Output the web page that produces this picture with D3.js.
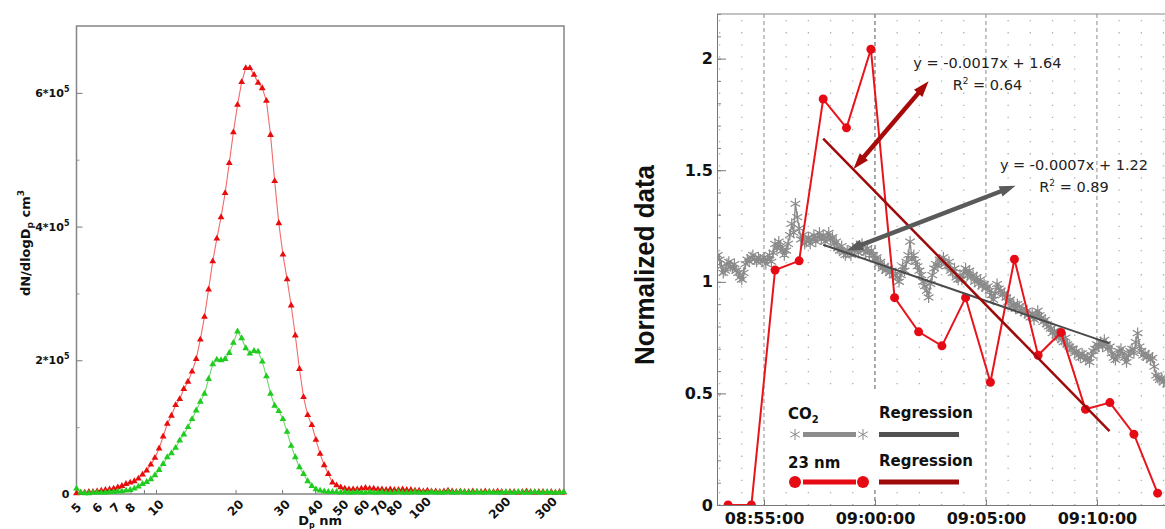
<!DOCTYPE html>
<html>
<head>
<meta charset="utf-8">
<script src="https://cdn.jsdelivr.net/npm/d3@7/dist/d3.min.js"></script>
<style>
html,body{margin:0;padding:0;background:#fff;}
svg{display:block;}
</style>
</head>
<body>
<svg id="chart" width="1165" height="529"></svg>
<script>
// ================= LEFT PANEL DATA =================
// particle diameter channels (nm)
const diameters = [
 5.000,5.183,5.373,5.570,5.774,5.985,6.204,6.432,6.667,6.912,
 7.165,7.427,7.699,7.981,8.274,8.577,8.891,9.217,9.554,9.904,
 10.27,10.64,11.03,11.44,11.86,12.29,12.74,13.21,13.69,14.19,
 14.71,15.25,15.81,16.39,16.99,17.62,18.26,18.93,19.62,20.34,
 21.09,21.86,22.66,23.49,24.35,25.24,26.17,27.13,28.12,29.15,
 30.22,31.33,32.47,33.66,34.89,36.17,37.49,38.87,40.29,41.77,
 43.30,44.88,46.53,48.23,50.00,51.83,53.73,55.70,57.74,59.85,
 62.04,64.32,66.67,69.12,71.65,74.27,76.99,79.81,82.74,85.77,
 88.91,92.17,95.54,99.04,102.7,106.4,110.3,114.4,118.6,122.9,
 127.4,132.1,136.9,141.9,147.1,152.5,158.1,163.9,169.9,176.2,
 182.6,189.3,196.2,203.4,210.9,218.6,226.6,234.9,243.5,252.4,
 261.7,271.3,281.2,291.5,302.2,313.3,324.7,336.6,348.9
];
// dN/dlogDp, units of 1e5 cm^-3
const seriesRed = [
 0.01,0.02,0.02,0.03,0.03,0.04,0.05,0.06,0.07,0.08,
 0.10,0.12,0.15,0.17,0.19,0.23,0.29,0.35,0.44,0.54,
 0.68,0.86,1.05,1.17,1.33,1.42,1.57,1.68,1.83,2.02,
 2.31,2.65,3.06,3.48,3.82,4.14,4.50,4.95,5.41,5.82,
 6.16,6.37,6.37,6.27,6.15,6.07,5.88,5.37,4.68,4.05,
 3.58,3.21,2.82,2.37,1.87,1.45,1.18,1.03,0.81,0.60,
 0.43,0.30,0.17,0.13,0.10,0.08,0.07,0.07,0.07,0.08,
 0.09,0.08,0.08,0.07,0.07,0.06,0.07,0.06,0.06,0.07,
 0.06,0.06,0.05,0.05,0.04,0.05,0.04,0.04,0.03,0.04,
 0.05,0.04,0.03,0.04,0.03,0.03,0.04,0.03,0.03,0.04,
 0.03,0.03,0.04,0.03,0.02,0.03,0.03,0.02,0.03,0.04,
 0.03,0.02,0.03,0.03,0.02,0.03,0.02,0.03,0.02
];
const seriesGreen = [
 0.08,0.02,0.01,0.01,0.02,0.02,0.02,0.02,0.03,0.03,
 0.04,0.04,0.05,0.06,0.08,0.11,0.15,0.18,0.22,0.28,
 0.36,0.45,0.55,0.61,0.69,0.80,0.89,1.00,1.12,1.25,
 1.38,1.50,1.72,1.94,2.01,2.00,2.02,2.11,2.26,2.43,
 2.33,2.18,2.10,2.14,2.13,1.98,1.76,1.50,1.32,1.24,
 1.12,0.93,0.72,0.55,0.40,0.30,0.19,0.12,0.07,0.05,
 0.04,0.03,0.03,0.03,0.02,0.03,0.02,0.02,0.03,0.02,
 0.02,0.03,0.02,0.02,0.03,0.02,0.02,0.02,0.03,0.02,
 0.02,0.02,0.03,0.02,0.02,0.02,0.03,0.02,0.02,0.02,
 0.03,0.02,0.02,0.03,0.02,0.02,0.02,0.03,0.02,0.02,
 0.03,0.02,0.02,0.02,0.03,0.02,0.02,0.03,0.02,0.02,
 0.02,0.03,0.02,0.02,0.03,0.02,0.02,0.02,0.03
];
const leftXTicks = [5,6,7,8,9,10,20,30,40,50,60,70,80,90,100,200,300];
const leftXLabels = [5,6,7,8,10,20,30,40,50,60,70,80,100,200,300];
const leftYMajor = [0,2,4,6];
const leftYMinor = [1,3,5];

// ================= RIGHT PANEL DATA =================
const co2StartTime = "08:52:55";
const co2StepSeconds = 5;
const co2Values = [
 1.12,1.10,1.07,1.04,1.05,1.08,1.09,1.07,1.06,1.08,1.05,1.04,
 1.02,1.01,1.04,1.08,1.10,1.09,1.11,1.12,1.10,1.09,1.11,1.10,
 1.09,1.11,1.08,1.10,1.12,1.09,1.13,1.17,1.15,1.18,1.16,1.14,
 1.12,1.14,1.17,1.21,1.26,1.22,1.35,1.29,1.24,1.19,1.21,1.17,
 1.18,1.20,1.17,1.19,1.21,1.18,1.20,1.22,1.19,1.21,1.18,1.20,
 1.22,1.19,1.20,1.17,1.18,1.15,1.14,1.16,1.13,1.12,1.14,1.13,
 1.12,1.15,1.14,1.16,1.13,1.15,1.17,1.14,1.13,1.15,1.12,1.14,
 1.12,1.10,1.11,1.08,1.09,1.06,1.07,1.05,1.06,1.04,1.05,1.03,
 1.03,1.02,1.00,1.03,1.07,1.05,1.09,1.12,1.18,1.10,1.12,1.09,
 1.07,1.05,1.03,1.00,0.98,0.96,0.93,0.99,1.03,1.06,1.08,1.07,
 1.10,1.09,1.11,1.08,1.07,1.09,1.05,1.04,1.06,1.02,1.01,1.03,
 1.01,1.04,1.06,1.03,1.05,1.02,1.03,1.00,1.02,0.99,1.01,0.98,
 0.99,0.97,0.98,0.96,0.94,0.92,0.95,0.99,0.97,0.96,0.94,0.95,
 0.93,0.91,0.92,0.89,0.90,0.88,0.90,0.89,0.87,0.88,0.86,0.87,
 0.85,0.84,0.86,0.83,0.85,0.87,0.85,0.84,0.82,0.83,0.81,0.80,
 0.79,0.77,0.78,0.76,0.75,0.77,0.74,0.73,0.75,0.72,0.71,0.70,
 0.70,0.68,0.69,0.67,0.66,0.68,0.67,0.65,0.66,0.64,0.67,0.69,
 0.70,0.72,0.71,0.73,0.71,0.74,0.72,0.70,0.71,0.68,0.66,0.65,
 0.67,0.69,0.70,0.68,0.66,0.64,0.67,0.69,0.70,0.68,0.73,0.77,
 0.71,0.69,0.67,0.68,0.66,0.67,0.65,0.66,0.62,0.58,0.57,0.56,
 0.57,0.55,0.56,0.54,0.55,0.53,0.54,0.52,0.53
];
const nm23Times = ["08:53:23","08:54:26","08:55:30","08:56:35","08:57:40","08:58:43","08:59:49",
 "09:00:53","09:01:58","09:03:01","09:04:05","09:05:12","09:06:17","09:07:21","09:08:23",
 "09:09:29","09:10:35","09:11:40","09:12:44"];
const nm23Values = [0,0,1.053,1.094,1.819,1.690,2.042,0.929,0.776,0.713,0.929,0.550,1.101,
 0.671,0.773,0.429,0.459,0.317,0.053];
const regCo2Times = ["08:57:40","09:10:34"];
const regCo2Values = [1.166,0.724];
const regNmTimes = ["08:57:40","09:10:34"];
const regNmValues = [1.642,0.331];
const arrowNmTimes = ["08:59:02","09:02:25"];
const arrowNmValues = [1.506,1.899];
const arrowCo2Times = ["08:58:44","09:06:20"];
const arrowCo2Values = [1.140,1.431];
const annTexts = [["y = -0.0017x + 1.64","0.64"],["y = -0.0007x + 1.22","0.89"]];
const annTimes = ["09:05:04","09:08:58"];
const annValues = [1.96,1.502];
const rightYTicks = [0,0.5,1,1.5,2];
const rightXTicks = ["08:55:00","09:00:00","09:05:00","09:10:00"];

// ================= DRAW =================
const svg = d3.select("#chart");
const BOLD = "'DejaVu Sans', sans-serif";

// ---------- LEFT ----------
const lx = d3.scaleLog().domain([5,350]).range([76.5,564]);
const ly = d3.scaleLinear().domain([0,7]).range([494,26]);
const [lx0,lx1] = lx.range(), [ly0,ly1] = ly.range();
const L = svg.append("g");

L.append("g").attr("transform",`translate(0,${ly0})`)
 .call(d3.axisBottom(lx).tickValues(leftXTicks).tickSize(-4).tickFormat("").tickSizeOuter(0))
 .call(g=>{g.select(".domain").remove(); g.selectAll("line").attr("stroke","#777");});
L.append("g").attr("transform",`translate(${lx0},0)`)
 .call(d3.axisLeft(ly).tickValues(leftYMajor).tickSize(-6).tickFormat("").tickSizeOuter(0))
 .call(g=>{g.select(".domain").remove(); g.selectAll("line").attr("stroke","#777");});
L.append("g").attr("transform",`translate(${lx0},0)`)
 .call(d3.axisLeft(ly).tickValues(leftYMinor).tickSize(-3).tickFormat("").tickSizeOuter(0))
 .call(g=>{g.select(".domain").remove(); g.selectAll("line").attr("stroke","#999");});

L.append("rect").attr("x",lx0).attr("y",ly1).attr("width",lx1-lx0).attr("height",ly0-ly1)
 .attr("fill","none").attr("stroke","#858585").attr("stroke-width",1.5);

// y labels
leftYMajor.forEach(v=>{
  const t = L.append("text").attr("x",lx0-7).attr("y",ly(v)+4).attr("text-anchor","end")
    .attr("font-family",BOLD).attr("font-weight","bold").attr("font-size",11).attr("fill","#111");
  if(v===0){ t.text("0"); }
  else { t.append("tspan").text(v+"*10"); t.append("tspan").attr("dy",-5).attr("font-size",8).text("5"); }
});
// x labels
leftXLabels.forEach(d=>{
  const x = lx(d), y = 508;
  L.append("text").attr("x",x).attr("y",y).attr("text-anchor","middle").attr("dominant-baseline","central")
   .attr("transform",`rotate(-45,${x},${y})`)
   .attr("font-family",BOLD).attr("font-weight","bold").attr("font-size",12).attr("fill","#111").text(d);
});
// axis titles
{
  const t = L.append("text").attr("transform","translate(30,243) rotate(-90)").attr("text-anchor","middle")
   .attr("font-family",BOLD).attr("font-weight","bold").attr("font-size",13).attr("fill","#111");
  t.append("tspan").text("dN/dlogD");
  t.append("tspan").attr("dy",3).attr("font-size",9).text("p");
  t.append("tspan").attr("dy",-3).text(" cm");
  t.append("tspan").attr("dy",-6).attr("font-size",9).text("3");
  const u = L.append("text").attr("x",(lx0+lx1)/2).attr("y",525).attr("text-anchor","middle")
   .attr("font-family",BOLD).attr("font-weight","bold").attr("font-size",13).attr("fill","#111");
  u.append("tspan").text("D");
  u.append("tspan").attr("dy",3).attr("font-size",8).text("p");
  u.append("tspan").attr("dy",-3).text(" nm");
}
// series
const leftSeries = [
  {vals:seriesRed, line:"#f26a6a", fill:"#e80c0c"},
  {vals:seriesGreen, line:"#6fd66f", fill:"#1fcc1f"}
];
const tri = d3.symbol().type(d3.symbolTriangle).size(20);
leftSeries.forEach(s=>{
  const line = d3.line().x((d,i)=>lx(diameters[i])).y(d=>ly(d));
  L.append("path").attr("d",line(s.vals)).attr("fill","none").attr("stroke",s.line).attr("stroke-width",1.1);
  L.append("g").selectAll("path").data(s.vals).join("path")
   .attr("d",tri).attr("transform",(d,i)=>`translate(${lx(diameters[i])},${ly(d)})`)
   .attr("fill",s.fill);
});

// ---------- RIGHT ----------
const parseT = d3.timeParse("%H:%M:%S");
const rx = d3.scaleTime().domain([parseT("08:52:53"),parseT("09:13:04")]).range([717,1165]);
const ry = d3.scaleLinear().domain([0,2.2]).range([505,14]);
const [rx0,rx1] = rx.range(), [ry0,ry1] = ry.range();
const R = svg.append("g");
svg.append("defs").append("clipPath").attr("id","rclip").append("rect")
  .attr("x",rx0).attr("y",ry1).attr("width",rx1-rx0).attr("height",ry0-ry1);

// dotted minute grid
const minutes = d3.timeMinute.range(rx.domain()[0], rx.domain()[1]).filter(d=>d.getMinutes()%5!==0);
R.append("g").selectAll("line").data(minutes).join("line")
 .attr("x1",d=>rx(d)).attr("x2",d=>rx(d)).attr("y1",ry1+6).attr("y2",ry0)
 .attr("stroke","#b0b0b0").attr("stroke-width",1.3).attr("stroke-dasharray","1.3 10.8");
// dashed 5-minute lines
R.append("g").selectAll("line").data(rightXTicks.map(parseT)).join("line")
 .attr("x1",d=>rx(d)).attr("x2",d=>rx(d)).attr("y1",ry1).attr("y2",ry0)
 .attr("stroke",d=>d.getMinutes()===0?"#555":"#8c8c8c").attr("stroke-width",1).attr("stroke-dasharray","4 3");

// axes
R.append("g").attr("transform",`translate(${rx0},0)`)
 .call(d3.axisLeft(ry).ticks(22).tickSize(-4).tickFormat("").tickSizeOuter(0))
 .call(g=>{g.select(".domain").remove(); g.selectAll("line").attr("stroke","#888");});
R.append("g").attr("transform",`translate(${rx0},0)`)
 .call(d3.axisLeft(ry).tickValues(rightYTicks).tickSize(-9).tickPadding(4).tickSizeOuter(0)
   .tickFormat(d=>String(d)))
 .call(g=>{g.select(".domain").attr("stroke","#777");
   g.selectAll("line").attr("stroke","#777");
   g.selectAll("text").attr("font-family",BOLD).attr("font-weight","bold").attr("font-size",16).attr("fill","#111");});
R.append("g").attr("transform",`translate(0,${ry0})`)
 .call(d3.axisBottom(rx).tickValues(rightXTicks.map(parseT)).tickSize(-5).tickPadding(8).tickSizeOuter(0)
   .tickFormat(d3.timeFormat("%H:%M:%S")))
 .call(g=>{g.select(".domain").attr("stroke","#777");
   g.selectAll("line").attr("stroke","#777");
   g.selectAll("text").attr("font-family",BOLD).attr("font-weight","bold").attr("font-size",16).attr("fill","#111");});
R.append("line").attr("x1",rx0).attr("x2",rx1).attr("y1",ry1).attr("y2",ry1).attr("stroke","#888").attr("stroke-width",1.2);

// y title
R.append("text").attr("transform",`translate(654,265) rotate(-90)`).attr("text-anchor","middle")
 .attr("font-family","'Liberation Sans', Arial, sans-serif").attr("font-weight","bold").attr("font-size",27)
 .attr("textLength",200).attr("lengthAdjust","spacingAndGlyphs").attr("fill","#111").text("Normalized data");

const P = R.append("g").attr("clip-path","url(#rclip)");
// CO2 series
const co2Start = parseT(co2StartTime);
const co2Time = i => d3.timeSecond.offset(co2Start, i*co2StepSeconds);
const asterisk = r => `M0,${-r}L0,${r}M${-r*0.866},${-r*0.5}L${r*0.866},${r*0.5}M${-r*0.866},${r*0.5}L${r*0.866},${-r*0.5}`;
P.append("path").attr("d",d3.line().x((d,i)=>rx(co2Time(i))).y(d=>ry(d))(co2Values))
 .attr("fill","none").attr("stroke","#8f8f8f").attr("stroke-width",1.4);
P.append("g").selectAll("path").data(co2Values).join("path")
 .attr("d",asterisk(5.6)).attr("transform",(d,i)=>`translate(${rx(co2Time(i))},${ry(d)})`)
 .attr("stroke","#8a8a8a").attr("stroke-width",1.2).attr("fill","none");

// 23 nm series
const nmT = nm23Times.map(parseT);
P.append("path").attr("d",d3.line().x((d,i)=>rx(nmT[i])).y(d=>ry(d))(nm23Values))
 .attr("fill","none").attr("stroke","#e8141c").attr("stroke-width",2);
P.append("g").selectAll("circle").data(nm23Values).join("circle")
 .attr("cx",(d,i)=>rx(nmT[i])).attr("cy",d=>ry(d)).attr("r",4.5).attr("fill","#e60a14");

// regressions
const regLine = (times, vals, color, w) => {
  P.append("line").attr("x1",rx(parseT(times[0]))).attr("y1",ry(vals[0]))
   .attr("x2",rx(parseT(times[1]))).attr("y2",ry(vals[1]))
   .attr("stroke",color).attr("stroke-width",w);
};
regLine(regCo2Times, regCo2Values, "#4a4a4a", 2);
regLine(regNmTimes, regNmValues, "#9e0a0a", 2.5);

// arrows (double headed)
const arrow = (times, vals, color) => {
  const x1 = rx(parseT(times[0])), y1 = ry(vals[0]), x2 = rx(parseT(times[1])), y2 = ry(vals[1]);
  const a = Math.atan2(y2-y1, x2-x1), hl = 16, hw = 5.5;
  const ux = Math.cos(a), uy = Math.sin(a);
  R.append("line").attr("x1",x1+ux*hl*0.8).attr("y1",y1+uy*hl*0.8).attr("x2",x2-ux*hl*0.8).attr("y2",y2-uy*hl*0.8)
   .attr("stroke",color).attr("stroke-width",4.5);
  const head = (px,py,dx,dy) => {
    const bx = px - dx*hl, by = py - dy*hl;
    return `M${px},${py}L${bx - dy*hw},${by + dx*hw}L${bx + dy*hw},${by - dx*hw}Z`;
  };
  R.append("path").attr("d",head(x2,y2,ux,uy)).attr("fill",color);
  R.append("path").attr("d",head(x1,y1,-ux,-uy)).attr("fill",color);
};
arrow(arrowNmTimes, arrowNmValues, "#a80a0a");
arrow(arrowCo2Times, arrowCo2Values, "#5a5a5a");

// annotations
annTexts.forEach((t,k)=>{
  const x = rx(parseT(annTimes[k])), y = ry(annValues[k]);
  R.append("text").attr("x",x).attr("y",y).attr("text-anchor","middle")
   .attr("font-family","'DejaVu Sans', sans-serif").attr("font-size",14.5).attr("fill","#222").text(t[0]);
  const r = R.append("text").attr("x",x).attr("y",y+22).attr("text-anchor","middle")
   .attr("font-family","'DejaVu Sans', sans-serif").attr("font-size",14.5).attr("fill","#222");
  r.append("tspan").text("R");
  r.append("tspan").attr("dy",-6).attr("font-size",9).text("2");
  r.append("tspan").attr("dy",6).text(" = "+t[1]);
});

// legend
const LG = R.append("g");
LG.append("rect").attr("x",782).attr("y",390).attr("width",196).attr("height",98).attr("fill","#fff");
const legFont = g => g.attr("font-family",BOLD).attr("font-weight","bold").attr("font-size",15).attr("fill","#111");
{
  const t = LG.append("text").attr("x",788).attr("y",419).call(legFont);
  t.append("tspan").text("CO");
  t.append("tspan").attr("dy",4).attr("font-size",10).text("2");
  LG.append("text").attr("x",879).attr("y",418).call(legFont).text("Regression");
  LG.append("text").attr("x",788).attr("y",468).call(legFont).text("23 nm");
  LG.append("text").attr("x",879).attr("y",466).call(legFont).text("Regression");
  const r1 = 434.5, r2 = 482;
  LG.append("path").attr("d",asterisk(5.5)).attr("transform",`translate(795,${r1})`).attr("stroke","#8a8a8a").attr("fill","none");
  LG.append("path").attr("d",asterisk(5.5)).attr("transform",`translate(863,${r1})`).attr("stroke","#8a8a8a").attr("fill","none");
  LG.append("line").attr("x1",803).attr("x2",856).attr("y1",r1).attr("y2",r1).attr("stroke","#8c8c8c").attr("stroke-width",5);
  LG.append("line").attr("x1",879).attr("x2",959).attr("y1",r1).attr("y2",r1).attr("stroke","#525252").attr("stroke-width",5);
  LG.append("circle").attr("cx",795).attr("cy",r2).attr("r",6).attr("fill","#e60a14");
  LG.append("circle").attr("cx",863).attr("cy",r2).attr("r",6).attr("fill","#e60a14");
  LG.append("line").attr("x1",803).attr("x2",856).attr("y1",r2).attr("y2",r2).attr("stroke","#e60a14").attr("stroke-width",5);
  LG.append("line").attr("x1",879).attr("x2",959).attr("y1",r2).attr("y2",r2).attr("stroke","#9e0a0a").attr("stroke-width",5);
}
</script>
</body>
</html>
